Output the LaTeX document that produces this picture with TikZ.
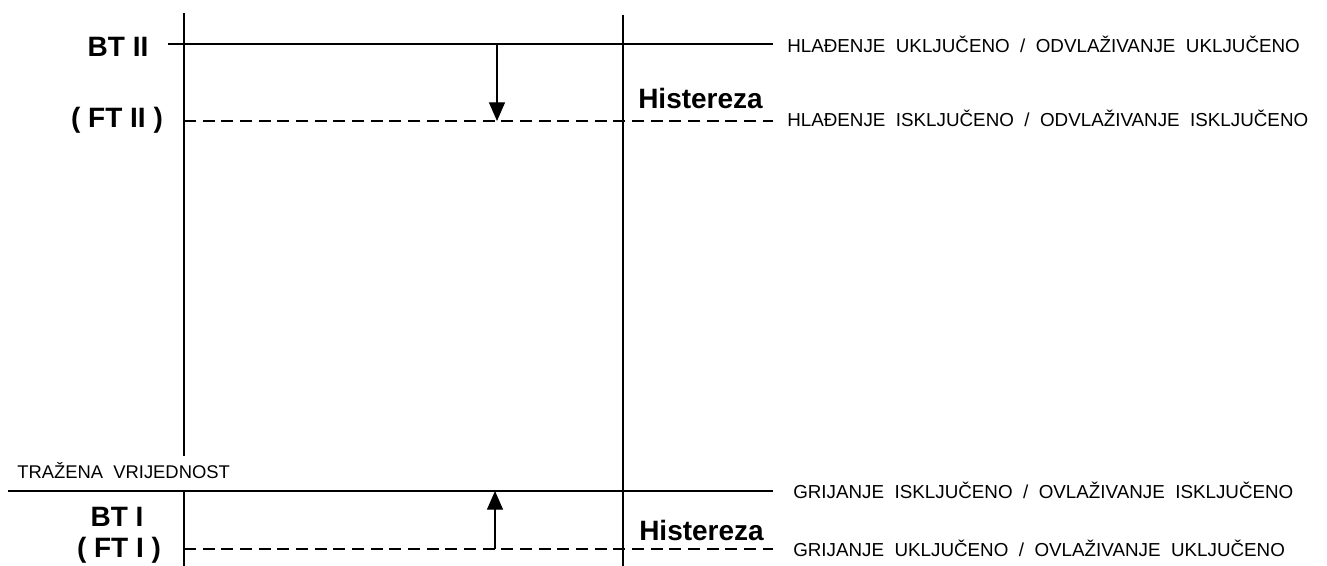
\documentclass[tikz,border=0pt]{standalone}
\usepackage{fontspec}
\setmainfont{Liberation Sans}
\usetikzlibrary{arrows.meta}
\begin{document}
\begin{tikzpicture}[x=0.75pt,y=-0.75pt,
  mainline/.style={line width=1.5pt},
  dashline/.style={line width=1.5pt,dash pattern=on 9pt off 5pt},
  hyst/.style={-{Triangle[width=12pt,length=14pt]},line width=1pt},
  biglbl/.style={font=\fontsize{21}{24}\selectfont\bfseries,inner sep=0pt},
  smalllbl/.style={font=\fontsize{14.1}{16}\selectfont,inner sep=0pt,anchor=base west},
  trazlbl/.style={font=\fontsize{13.8}{16}\selectfont,inner sep=0pt,anchor=base west}]
\useasboundingbox (0,0) rectangle (1327,566);
% coordinates
\coordinate (v1t) at (184,13);
\coordinate (v1m) at (184,456);
\coordinate (v1n) at (184,491);
\coordinate (v1b) at (184,566);
\coordinate (v2t) at (623,15);
\coordinate (v2b) at (623,566);
\coordinate (bt2s) at (168,44);
\coordinate (bt2e) at (773,44);
\coordinate (ft2s) at (184,121);
\coordinate (ft2e) at (773,121);
\coordinate (bt1s) at (8,491);
\coordinate (bt1e) at (773,491);
\coordinate (ft1s) at (184,549);
\coordinate (ft1e) at (773,549);
\coordinate (a1s) at (497,44);
\coordinate (a1e) at (497,121);
\coordinate (a2s) at (495,549);
\coordinate (a2e) at (495,491);
% lines
\draw[mainline] (v1t) -- (v1m);
\draw[mainline] (v1n) -- (v1b);
\draw[mainline] (v2t) -- (v2b);
\draw[mainline] (bt2s) -- (bt2e);
\draw[dashline] (ft2s) -- (ft2e);
\draw[mainline] (bt1s) -- (bt1e);
\draw[dashline] (ft1s) -- (ft1e);
\draw[hyst] (a1s) -- (a1e);
\draw[hyst] (a2s) -- (a2e);
% left labels
\node[biglbl,anchor=base] (lbt2) at (118,57) {BT II};
\node[biglbl,anchor=base] (lft2) at (117,128) {( FT II )};
\node[biglbl,anchor=base] (lbt1) at (117,526) {BT I};
\node[biglbl,anchor=base] (lft1) at (119,557) {( FT I )};
\node[trazlbl] (ltraz) at (17,478) {TRAŽENA\ \ VRIJEDNOST};
% hysteresis labels
\node[biglbl,anchor=base west] (h1) at (638,109) {Histereza};
\node[biglbl,anchor=base west] (h2) at (639,540) {Histereza};
% right labels
\node[smalllbl] (r1) at (787,53) {HLAĐENJE\ \ UKLJUČENO\ \ /\ \ ODVLAŽIVANJE\ \ UKLJUČENO};
\node[smalllbl] (r2) at (787,127) {HLAĐENJE\ \ ISKLJUČENO\ \ /\ \ ODVLAŽIVANJE\ \ ISKLJUČENO};
\node[smalllbl] (r3) at (793,498) {GRIJANJE\ \ ISKLJUČENO\ \ /\ \ OVLAŽIVANJE\ \ ISKLJUČENO};
\node[smalllbl] (r4) at (793,556) {GRIJANJE\ \ UKLJUČENO\ \ /\ \ OVLAŽIVANJE\ \ UKLJUČENO};
\end{tikzpicture}
\end{document}
